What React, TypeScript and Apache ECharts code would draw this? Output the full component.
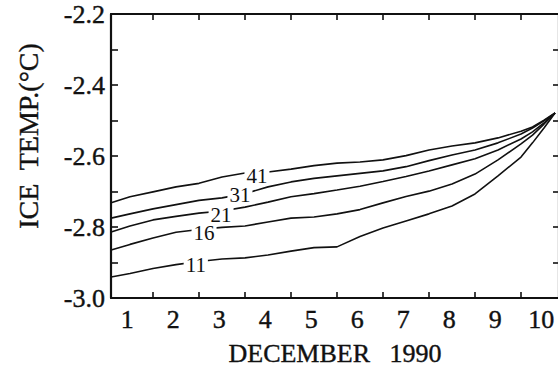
import React, { useEffect, useRef } from "react";
import * as echarts from "echarts";

// x: days since start of 1 December 1990 (day n spans n-1 .. n)
const days = [0.09, 0.5, 1, 1.5, 2, 2.5, 3, 3.5, 4, 4.5, 5, 5.5, 6, 6.5, 7, 7.5, 8, 8.5, 9, 9.25, 9.5, 9.74];

const depth41 = [-2.732, -2.715, -2.701, -2.687, -2.677, -2.659, -2.648, -2.645, -2.637, -2.627, -2.62, -2.617, -2.611, -2.599, -2.583, -2.572, -2.563, -2.549, -2.53, -2.518, -2.499, -2.479];
const depth31 = [-2.775, -2.763, -2.749, -2.737, -2.725, -2.718, -2.706, -2.687, -2.673, -2.663, -2.656, -2.649, -2.642, -2.63, -2.613, -2.597, -2.583, -2.563, -2.538, -2.521, -2.501, -2.479];
const depth21 = [-2.814, -2.797, -2.78, -2.77, -2.761, -2.755, -2.744, -2.73, -2.715, -2.706, -2.696, -2.685, -2.672, -2.658, -2.642, -2.625, -2.608, -2.583, -2.552, -2.532, -2.507, -2.479];
const depth16 = [-2.865, -2.849, -2.831, -2.815, -2.807, -2.801, -2.797, -2.786, -2.775, -2.772, -2.763, -2.751, -2.732, -2.714, -2.699, -2.679, -2.651, -2.611, -2.566, -2.541, -2.51, -2.479];
const depth11 = [-2.941, -2.931, -2.917, -2.906, -2.897, -2.89, -2.887, -2.879, -2.868, -2.858, -2.856, -2.827, -2.803, -2.783, -2.763, -2.741, -2.707, -2.656, -2.603, -2.563, -2.521, -2.479];

const curveNames = ["41", "31", "21", "16", "11"];
const curveValues = [depth41, depth31, depth21, depth16, depth11];
const curveLabelDay = [3.26, 2.89, 2.48, 2.11, 1.93];
const curveLabelTemp = [-2.656, -2.71, -2.766, -2.817, -2.907];

const dayBoundaries = [1, 2, 3, 4, 5, 6, 7, 8, 9];
const dayLabels = [1, 2, 3, 4, 5, 6, 7, 8, 9, 10];
const tempTicks = [-3.0, -2.9, -2.8, -2.7, -2.6, -2.5, -2.4, -2.3, -2.2];
const tempLabels = [-3.0, -2.8, -2.6, -2.4, -2.2];

const X_MIN = 0.087;
const X_MAX = 9.826;
const LABEL_SHIFT = 0.56;

const FONT = "'Liberation Serif', 'Times New Roman', serif";
const INK = "#111";
const heavy = { textBorderColor: INK, textBorderWidth: 0.4 };

export default function App() {
  const ref = useRef<HTMLDivElement>(null);

  useEffect(() => {
    if (!ref.current) return;
    const chart = echarts.init(ref.current, null, { renderer: "svg" });

    const axisLine = { show: true, lineStyle: { color: INK, width: 2.2 } };
    const tickStyle = { color: INK, width: 1.6 };

    const series = curveNames.map((name, i) => ({
      name,
      type: "line",
      data: days.map((d, j) => [d, curveValues[i][j]]),
      showSymbol: false,
      symbol: "none",
      lineStyle: { color: INK, width: 1.6 },
      z: 2,
      markPoint: {
        symbol: "circle",
        symbolSize: 0,
        silent: true,
        data: [
          {
            coord: [curveLabelDay[i], curveLabelTemp[i]],
            label: {
              show: true,
              formatter: name,
              position: "inside",
              color: INK,
              fontFamily: FONT,
              fontSize: 21,
              lineHeight: 15,
              backgroundColor: "#fff",
              padding: [0, 2],
            },
          },
        ],
      },
    }));

    chart.setOption({
      animation: false,
      backgroundColor: "#fff",
      grid: { left: 111, top: 14, right: -1, bottom: 69, containLabel: false, outerBoundsMode: "none" },
      xAxis: [
        {
          type: "value",
          position: "bottom",
          min: X_MIN,
          max: X_MAX,
          axisLine,
          splitLine: { show: false },
          axisTick: { show: true, inside: true, length: 6, lineStyle: tickStyle, customValues: dayBoundaries },
          axisLabel: {
            show: true,
            customValues: dayLabels.map((d) => d - LABEL_SHIFT),
            formatter: (v: number) => String(Math.round(v + LABEL_SHIFT)),
            color: INK,
            fontFamily: FONT,
            fontSize: 26,
            margin: 8,
            ...heavy,
          },
          name: "DECEMBER   1990",
          nameLocation: "middle",
          nameGap: 42,
          nameTextStyle: { color: INK, fontFamily: FONT, fontSize: 26, ...heavy },
        },
        {
          type: "value",
          position: "top",
          min: X_MIN,
          max: X_MAX,
          axisLine,
          splitLine: { show: false },
          axisTick: { show: true, inside: true, length: 6, lineStyle: tickStyle, customValues: dayBoundaries },
          axisLabel: { show: false },
        },
      ],
      yAxis: [
        {
          type: "value",
          position: "left",
          min: -3.0,
          max: -2.2,
          axisLine,
          splitLine: { show: false },
          axisTick: { show: true, inside: true, length: 7, lineStyle: tickStyle, customValues: tempTicks },
          axisLabel: {
            show: true,
            customValues: tempLabels,
            formatter: (v: number) => v.toFixed(1),
            color: INK,
            fontFamily: FONT,
            fontSize: 26,
            margin: 6,
            ...heavy,
          },
        },
        {
          type: "value",
          position: "right",
          min: -3.0,
          max: -2.2,
          axisLine,
          splitLine: { show: false },
          axisTick: { show: true, inside: true, length: 6, lineStyle: tickStyle, customValues: tempTicks },
          axisLabel: { show: false },
        },
      ],
      graphic: [
        {
          type: "text",
          x: 28,
          y: 136,
          rotation: Math.PI / 2,
          style: {
            text: "ICE  TEMP.(°C)",
            textAlign: "center",
            textVerticalAlign: "middle",
            fill: INK,
            font: `28px ${FONT}`,
            stroke: INK,
            lineWidth: 0.4,
          },
        },
      ],
      series,
    });

    return () => chart.dispose();
  }, []);

  return (
    <div
      ref={ref}
      style={{ position: "fixed", left: 0, top: 0, width: 558, height: 367, background: "#fff" }}
    />
  );
}
